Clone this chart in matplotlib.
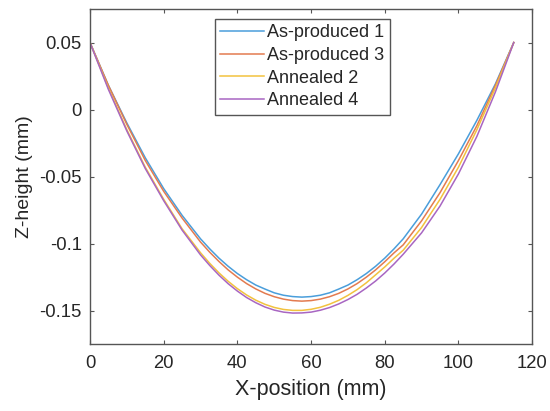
#!/usr/bin/env python3
from __future__ import annotations

import matplotlib

matplotlib.use("Agg")
import matplotlib.pyplot as plt
import numpy as np


# X positions along the profile (mm); finer spacing near the bottom of the sag
X_POS = [0, 5, 10, 15, 20, 25, 30, 32.5, 35, 37.5, 40, 42.5, 45, 47.5, 50, 52.5, 55, 57.5, 60, 62.5,
         65, 67.5, 70, 72.5, 75, 77.5, 80, 82.5, 85, 90, 95, 100, 105, 110, 115]

# Z-height profiles (mm)
AS_PRODUCED_1 = [0.050, 0.018, -0.010, -0.036, -0.059, -0.079, -0.0965, -0.104, -0.1109, -0.117, -0.1224,
                 -0.127, -0.131, -0.134, -0.1368, -0.1386, -0.1396, -0.140, -0.1396, -0.1386, -0.1368, -0.134,
                 -0.131, -0.127, -0.1224, -0.117, -0.1109, -0.104, -0.0965, -0.078, -0.056, -0.033, -0.008,
                 0.019, 0.050]
AS_PRODUCED_3 = [0.050, 0.018, -0.011, -0.038, -0.061, -0.081, -0.0989, -0.1065, -0.1134, -0.1197, -0.1251,
                 -0.1299, -0.1339, -0.1372, -0.1397, -0.1415, -0.1426, -0.143, -0.1426, -0.1415, -0.1397,
                 -0.1372, -0.1339, -0.1299, -0.1251, -0.1197, -0.1136, -0.107, -0.101, -0.083, -0.062, -0.038,
                 -0.012, 0.018, 0.050]
ANNEALED_2 = [0.050, 0.016, -0.015, -0.043, -0.067, -0.089, -0.1069, -0.1148, -0.1219, -0.1282, -0.1337,
              -0.1384, -0.1423, -0.1454, -0.1477, -0.1492, -0.1499, -0.1499, -0.1491, -0.1476, -0.1453, -0.1424,
              -0.1387, -0.1344, -0.1293, -0.1234, -0.1175, -0.111, -0.105, -0.088, -0.067, -0.043, -0.015,
              0.016, 0.050]
ANNEALED_4 = [0.050, 0.015, -0.016, -0.044, -0.068, -0.090, -0.1085, -0.1164, -0.1236, -0.130, -0.1355,
              -0.1403, -0.1442, -0.1474, -0.1497, -0.1512, -0.1519, -0.1518, -0.1512, -0.1498, -0.1478,
              -0.1451, -0.1418, -0.1379, -0.1332, -0.128, -0.122, -0.1153, -0.108, -0.092, -0.072, -0.048,
              -0.020, 0.013, 0.050]

SERIES_LABELS = ["As-produced 1", "As-produced 3", "Annealed 2", "Annealed 4"]
SERIES_COLORS = ["#4a9edb", "#e37b50", "#f2c23e", "#a866c2"]

X_TICKS = [0, 20, 40, 60, 80, 100, 120]
Y_TICKS = [-0.15, -0.1, -0.05, 0, 0.05]
Y_TICK_LABELS = ["-0.15", "-0.1", "-0.05", "0", "0.05"]

AXES_COLOR = "#555555"
TEXT_COLOR = "#262626"


def _style_axes(ax: plt.Axes) -> None:
    for spine in ax.spines.values():
        spine.set_linewidth(1.0)
        spine.set_color(AXES_COLOR)
    ax.tick_params(which="major", direction="in", top=True, right=True, length=3, width=0.8,
                   color=AXES_COLOR, labelcolor=TEXT_COLOR, labelsize=13.3)
    ax.tick_params(axis="x", pad=8)
    ax.tick_params(axis="y", pad=5.8)


def main() -> None:
    plt.rcParams.update(
        {
            "font.family": ["Liberation Sans", "DejaVu Sans"],
            "axes.unicode_minus": False,
        }
    )

    fig = plt.figure(figsize=(5.5, 4.11), dpi=100)
    ax = fig.add_axes([0.1636, 0.163, 0.804, 0.815])

    x = np.asarray(X_POS, dtype=float)
    for z, label, color in zip((AS_PRODUCED_1, AS_PRODUCED_3, ANNEALED_2, ANNEALED_4), SERIES_LABELS, SERIES_COLORS):
        ax.plot(x, np.asarray(z, dtype=float), color=color, lw=1.1, label=label)

    ax.set_xlim(0, 120)
    ax.set_ylim(-0.175, 0.075)
    ax.set_xticks(X_TICKS)
    ax.set_yticks(Y_TICKS)
    ax.set_yticklabels(Y_TICK_LABELS)
    ax.set_xlabel("X-position (mm)", fontsize=15.5, color=TEXT_COLOR, labelpad=5)
    ax.set_ylabel("Z-height (mm)", fontsize=14, color=TEXT_COLOR, labelpad=4.3)
    _style_axes(ax)

    leg = ax.legend(
        loc="upper left",
        bbox_to_anchor=(215 / 550, 1 - 19 / 411),
        bbox_transform=fig.transFigure,
        borderaxespad=0.0,
        fontsize=13,
        frameon=True,
        fancybox=False,
        framealpha=1.0,
        handlelength=2.4,
        handletextpad=0.2,
        labelspacing=0.31,
        borderpad=0.3,
    )
    leg.get_frame().set_edgecolor(AXES_COLOR)
    leg.get_frame().set_linewidth(1.0)
    for text in leg.get_texts():
        text.set_color(TEXT_COLOR)

    fig.savefig("out.png", dpi=100)
    plt.close(fig)


if __name__ == "__main__":
    main()
